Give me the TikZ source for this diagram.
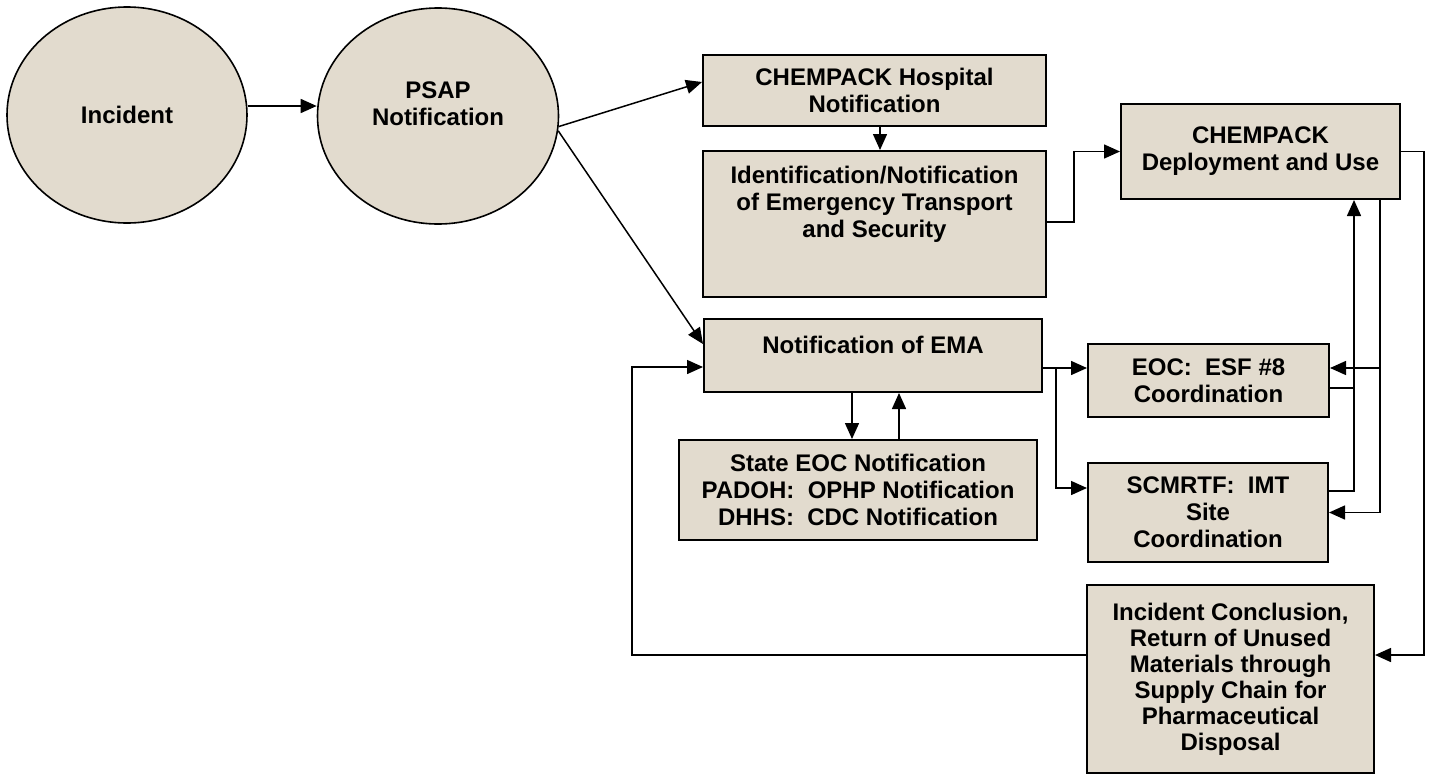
\documentclass[tikz,border=0pt]{standalone}
\usepackage{fontspec}
\setmainfont{Liberation Sans}
\usetikzlibrary{shapes.geometric, positioning, arrows.meta, backgrounds}
\definecolor{paperColor}{RGB}{226,219,206}
\tikzset{startNode/.style={shape=ellipse, draw, line width=1.6pt, fill=paperColor, inner sep=0pt, align=center, font=\bfseries\fontsize{24}{27}\selectfont}}
\tikzset{processNode/.style={shape=rectangle, draw, line width=2pt, fill=paperColor, inner sep=0pt, align=center, font=\bfseries\fontsize{24}{27}\selectfont}}
\tikzset{boxText/.style={inner sep=0pt, align=center, font=\bfseries\fontsize{24}{27}\selectfont}}
\tikzset{flow/.style={line width=1.5pt, -{Triangle[length=16pt, width=14pt]}}}
\tikzset{link/.style={line width=1.5pt}}

\begin{document}
\begin{tikzpicture}[x=1pt, y=-1pt,
  background rectangle/.style={fill=white}, show background rectangle]

\useasboundingbox (0,0) rectangle (1434,774);

% Start of the chain
\node[startNode, minimum width=240, minimum height=216] (incident) at (127,115) {Incident};
\node[startNode, minimum width=241, minimum height=216] (psap) at (438,116) {};
\node[boxText] (psapText) at (438,104) {PSAP\\Notification};

% Hospital branch
\node[processNode, minimum width=343, minimum height=71] (hospital) at (874.5,90.5) {CHEMPACK Hospital\\Notification};
\node[processNode, minimum width=343, minimum height=146] (ident) at (874.5,224) {};
\node[boxText] (identText) at (874.5,204) {Identification/Notification\\of Emergency Transport\\and Security};
\node[processNode, minimum width=279, minimum height=95] (deploy) at (1260.5,151.5) {CHEMPACK\\Deployment and Use};

% EMA branch
\node[processNode, minimum width=338, minimum height=73] (ema) at (873,355.5) {};
\node[boxText] (emaText) at (873,345) {Notification of EMA};
\node[processNode, minimum width=358, minimum height=100] (state) at (858,490) {State EOC Notification\\PADOH:\ \ OPHP Notification\\DHHS:\ \ CDC Notification};
\node[processNode, minimum width=241, minimum height=73] (eoc) at (1208.5,380.5) {EOC:\ \ ESF \#8\\Coordination};
\node[processNode, minimum width=240, minimum height=99] (scmrtf) at (1208,512.5) {SCMRTF:\ \ IMT\\Site\\Coordination};
\node[processNode, minimum width=287, minimum height=188, font=\bfseries\fontsize{24}{26}\selectfont] (conclusion) at (1230.5,679) {Incident Conclusion,\\Return of Unused\\Materials through\\Supply Chain for\\Pharmaceutical\\Disposal};

\coordinate (split) at (1056,368);
\coordinate (tap) at (1380,368);

% Connectors
\draw[flow] ([yshift=9pt]incident.east) -- ([yshift=10pt]psap.west);
\draw[flow] (psap.-5) -- ([yshift=8.5pt]hospital.west);
\draw[flow] (psap.-7) -- ([yshift=11.5pt]ema.west);
\draw[flow] ([xshift=5.5pt]hospital.south) -- ([xshift=5.5pt]ident.north);
\draw[flow] ([yshift=2pt]ident.east) -- ++(27,0) |- (deploy.west);

\draw[flow] ([yshift=-12.5pt]ema.east) -- ([yshift=12.5pt]eoc.west);
\draw[flow] (split) |- ([yshift=24.5pt]scmrtf.west);
\draw[flow] ([xshift=-21pt]ema.south) -- ([xshift=-6pt]state.north);
\draw[flow] ([xshift=41pt]state.north) -- ([xshift=26pt]ema.south);

\draw[link] ([yshift=-7.5pt]eoc.east) -- ++(25,0);
\draw[flow] ([yshift=21.5pt]scmrtf.east) -| ([xshift=93.5pt]deploy.south);
\draw[flow] ([xshift=119.5pt]deploy.south) |- (scmrtf.east);
\draw[flow] (tap) -- ([yshift=12.5pt]eoc.east);

\draw[flow] (deploy.east) -- ++(23,0) |- ([yshift=24pt]conclusion.east);
\draw[flow] ([yshift=24pt]conclusion.west) -| ([xshift=-71pt,yshift=-11.5pt]ema.west) -- ([yshift=-11.5pt]ema.west);

\end{tikzpicture}
\end{document}
